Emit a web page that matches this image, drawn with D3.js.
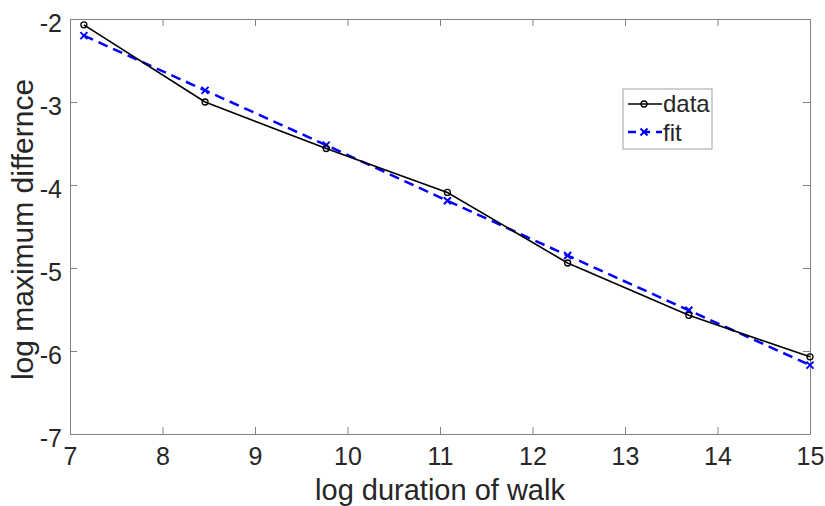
<!DOCTYPE html>
<html>
<head>
<meta charset="utf-8">
<script src="https://cdn.jsdelivr.net/npm/d3@7"></script>
<style>
  body { margin: 0; background: #fff; }
  text { font-family: "Liberation Sans", Arial, sans-serif; fill: #262626; }
</style>
</head>
<body>
<script>
const logDuration = [7.15, 8.46, 9.77, 11.08, 12.38, 13.69, 15.0];
const dataValues = [-2.07, -3.0, -3.56, -4.09, -4.94, -5.57, -6.07];
const fitValues = [-2.2, -2.86, -3.52, -4.19, -4.85, -5.51, -6.17];
const xTicks = [7, 8, 9, 10, 11, 12, 13, 14, 15];
const yTicks = [-7, -6, -5, -4, -3, -2];

const width = 825, height = 506;
const margin = ({ top: 19, right: 15, bottom: 72, left: 70 });

const x = d3.scaleLinear()
  .domain([7, 15])
  .range([margin.left, width - margin.right]);

const y = d3.scaleLinear()
  .domain([-7, -2])
  .range([height - margin.bottom, margin.top]);

const svg = d3.select("body")
  .append("svg")
  .attr("width", width)
  .attr("height", height);

const axisColor = "#808080";
const tickLen = 7;

// bottom + top axes
const xAxis = g => g
  .attr("transform", `translate(0,${height - margin.bottom})`)
  .call(d3.axisBottom(x).tickValues(xTicks).tickSizeInner(-tickLen).tickSizeOuter(0).tickPadding(13))
  .call(g => g.select(".domain").attr("stroke", axisColor))
  .call(g => g.selectAll(".tick line").attr("stroke", axisColor))
  .call(g => g.selectAll(".tick text")
    .attr("font-size", 25).attr("fill", "#262626")
    .attr("font-family", "Liberation Sans, Arial, sans-serif"));

const xAxisTop = g => g
  .attr("transform", `translate(0,${margin.top})`)
  .call(d3.axisTop(x).tickValues(xTicks).tickSizeInner(-tickLen).tickSizeOuter(0).tickFormat(""))
  .call(g => g.select(".domain").attr("stroke", axisColor))
  .call(g => g.selectAll(".tick line").attr("stroke", axisColor));

const yAxis = g => g
  .attr("transform", `translate(${margin.left},0)`)
  .call(d3.axisLeft(y).tickValues(yTicks).tickSizeInner(-tickLen).tickSizeOuter(0).tickPadding(8)
    .tickFormat(d => d3.format("d")(d).replace("\u2212", "-")))
  .call(g => g.select(".domain").attr("stroke", axisColor))
  .call(g => g.selectAll(".tick text")
    .attr("font-size", 25).attr("fill", "#262626").attr("dy", "0.5em")
    .attr("font-family", "Liberation Sans, Arial, sans-serif"))
  .call(g => g.selectAll(".tick line").attr("stroke", axisColor));

const yAxisRight = g => g
  .attr("transform", `translate(${width - margin.right},0)`)
  .call(d3.axisRight(y).tickValues(yTicks).tickSizeInner(-tickLen).tickSizeOuter(0).tickFormat(""))
  .call(g => g.select(".domain").attr("stroke", axisColor))
  .call(g => g.selectAll(".tick line").attr("stroke", axisColor));

svg.append("g").call(xAxis);
svg.append("g").call(xAxisTop);
svg.append("g").call(yAxis);
svg.append("g").call(yAxisRight);

// axis labels
svg.append("text")
  .attr("x", (margin.left + width - margin.right) / 2)
  .attr("y", 500)
  .attr("text-anchor", "middle")
  .attr("font-size", 29)
  .text("log duration of walk");

svg.append("text")
  .attr("transform", `translate(33,${(margin.top + height - margin.bottom) / 2 + 3}) rotate(-90)`)
  .attr("text-anchor", "middle")
  .attr("font-size", 30)
  .text("log maximum differnce");

// series
const dataPts = logDuration.map((d, i) => [d, dataValues[i]]);
const fitPts = logDuration.map((d, i) => [d, fitValues[i]]);
const line = d3.line().x(d => x(d[0])).y(d => y(d[1]));

svg.append("path")
  .datum(fitPts)
  .attr("fill", "none")
  .attr("stroke", "#0000ff")
  .attr("stroke-width", 2.5)
  .attr("stroke-dasharray", "10,6")
  .attr("d", line);

svg.append("path")
  .datum(dataPts)
  .attr("fill", "none")
  .attr("stroke", "#000")
  .attr("stroke-width", 1.6)
  .attr("d", line);

const cross = (g, cx, cy, s) => g.append("path")
  .attr("d", `M${cx - s},${cy - s}L${cx + s},${cy + s}M${cx - s},${cy + s}L${cx + s},${cy - s}`)
  .attr("stroke", "#0000ff")
  .attr("stroke-width", 2);

fitPts.forEach(d => cross(svg, x(d[0]), y(d[1]), 3.5));

svg.selectAll("circle.data")
  .data(dataPts)
  .join("circle")
  .attr("class", "data")
  .attr("cx", d => x(d[0]))
  .attr("cy", d => y(d[1]))
  .attr("r", 3)
  .attr("fill", "none")
  .attr("stroke", "#000")
  .attr("stroke-width", 1.3);

// legend
const lg = svg.append("g").attr("transform", "translate(623,89)");
lg.append("rect")
  .attr("width", 89).attr("height", 60)
  .attr("fill", "#fff").attr("stroke", "#a0a0a0");

lg.append("line")
  .attr("x1", 5).attr("x2", 39).attr("y1", 15).attr("y2", 15)
  .attr("stroke", "#000").attr("stroke-width", 1.6);
lg.append("circle")
  .attr("cx", 21).attr("cy", 15).attr("r", 3)
  .attr("fill", "none").attr("stroke", "#000").attr("stroke-width", 1.3);
lg.append("text").attr("x", 40).attr("y", 23).attr("font-size", 24).text("data");

lg.append("line")
  .attr("x1", 5).attr("x2", 39).attr("y1", 43).attr("y2", 43)
  .attr("stroke", "#0000ff").attr("stroke-width", 2.5).attr("stroke-dasharray", "8,6");
cross(lg, 21, 43, 3.5);
lg.append("text").attr("x", 40).attr("y", 52).attr("font-size", 24).text("fit");
</script>
</body>
</html>
